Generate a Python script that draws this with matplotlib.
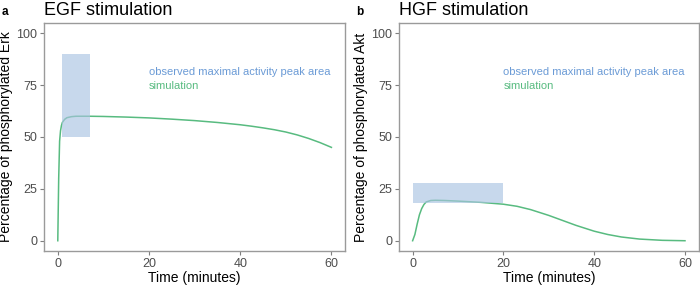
import matplotlib
matplotlib.use('Agg')
import matplotlib.pyplot as plt
from matplotlib.patches import Rectangle

plt.rcParams['font.family'] = ['Liberation Sans', 'DejaVu Sans']

# EGF / Erk simulation curve
egf_t = [0, 0.2, 0.4, 0.6, 0.8, 1.0, 1.5, 2, 3, 4, 5, 7, 10, 15, 20, 25, 30, 35, 40,
         42.5, 45, 47.5, 50, 52.5, 55, 57.5, 60]
egf_y = [0, 30, 48, 53, 55.5, 57, 58.5, 59.3, 59.8, 60, 60, 60, 59.9, 59.6, 59.2, 58.6, 57.9, 57.0, 55.9,
         55.2, 54.4, 53.5, 52.4, 51.0, 49.3, 47.3, 45]
egf_box = (1, 7, 50, 90)  # t0, t1, y0, y1

# HGF / Akt simulation curve
hgf_t = [0, 0.5, 1, 1.5, 2, 2.5, 3, 4, 5, 7, 10, 15, 20, 23, 26, 30, 33, 36, 40, 43, 46, 50, 55, 60]
hgf_y = [0, 3, 8, 12.5, 15.5, 17.5, 18.7, 19.4, 19.5, 19.4, 19.1, 18.5, 17.6, 16.6, 15.0, 12.2, 9.8, 7.4, 4.6, 3.0, 1.8, 0.8, 0.2, 0]
hgf_box = (0, 20, 18, 28)

panels = [
    ('a', 'EGF stimulation', 'Percentage of phosphorylated Erk', egf_t, egf_y, egf_box),
    ('b', 'HGF stimulation', 'Percentage of phosphorylated Akt', hgf_t, hgf_y, hgf_box),
]

line_col = '#58bb80'
box_col = '#aac4e2'
text_blue = '#6b9bd6'

fig = plt.figure(figsize=(7, 2.86), dpi=100)
positions = [[0.063, 0.122, 0.430, 0.798], [0.570, 0.122, 0.428, 0.798]]
letter_x = [0.003, 0.509]

for pos, lx, (letter, title, ylab, t, y, box) in zip(positions, letter_x, panels):
    ax = fig.add_axes(pos)
    ax.plot(t, y, color=line_col, lw=1.1, zorder=2)
    ax.add_patch(Rectangle((box[0], box[2]), box[1] - box[0], box[3] - box[2],
                           facecolor=box_col, alpha=0.65, edgecolor='none', zorder=3))
    ax.text(20, 81.5, 'observed maximal activity peak area', color=text_blue,
            fontsize=8, va='center', ha='left')
    ax.text(20, 74.7, 'simulation', color=line_col, fontsize=8, va='center', ha='left')
    ax.set_xlim(-3, 63)
    ax.set_ylim(-5, 105)
    ax.set_xticks([0, 20, 40, 60])
    ax.set_yticks([0, 25, 50, 75, 100])
    ax.tick_params(colors='#7f7f7f', labelcolor='#4d4d4d', labelsize=9, length=3, width=0.8, pad=2)
    for s in ax.spines.values():
        s.set_color('#9a9a9a')
        s.set_linewidth(1.0)
    ax.set_xlabel('Time (minutes)', fontsize=10, labelpad=1)
    ax.set_ylabel(ylab, fontsize=10, labelpad=2)
    fig.text(pos[0], 0.948, title, fontsize=13, ha='left', va='baseline')
    fig.text(lx, 0.948, letter, fontsize=8.5, fontweight='bold', ha='left', va='baseline')

fig.savefig('out.png', dpi=100)
